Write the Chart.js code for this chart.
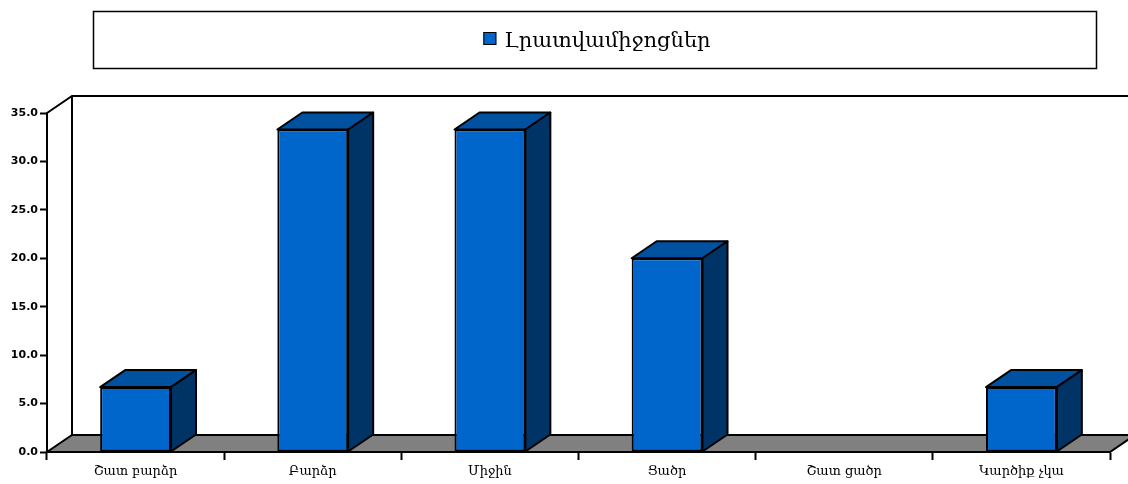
<!DOCTYPE html>
<html lang="hy">
    <head>
        <meta charset="utf-8">
        <title>Լրատվամիջոցներ</title>
        <script src="https://cdn.jsdelivr.net/npm/chart.js@4.4.1/dist/chart.umd.min.js"></script>
        <style>
            html, body { margin: 0; padding: 0; background: #ffffff; }
        </style>
    </head>

    <body>
        <canvas id="myChart" width="1128" height="484"></canvas>

        <script>

            const Categories = ['Շատ բարձր', 'Բարձր', 'Միջին', 'Ցածր', 'Շատ ցածր', 'Կարծիք չկա'];
            const SeriesLabel = 'Լրատվամիջոցներ';
            const SeriesValues = [6.7, 33.3, 33.3, 20.0, 0, 6.7];
            const YTicks = [0, 5, 10, 15, 20, 25, 30, 35];

            // 3d look
            const DX = 25;
            const DY = 17;
            const FRONT = '#0066CC';
            const TOP = '#00519F';
            const SIDE = '#003366';

            const box3d = {
                id: 'box3d',
                beforeDatasetsDraw (chart) {
                    const ctx = chart.ctx;
                    const a = chart.chartArea;
                    ctx.save ();
                    ctx.lineWidth = 2;
                    ctx.strokeStyle = '#000';

                    // back wall
                    ctx.beginPath ();
                    ctx.moveTo (a.left, a.top);
                    ctx.lineTo (a.left + DX, a.top - DY);
                    ctx.lineTo (chart.width + 5, a.top - DY);
                    ctx.moveTo (a.left + DX, a.top - DY);
                    ctx.lineTo (a.left + DX, a.bottom - DY);
                    ctx.stroke ();

                    // floor
                    ctx.beginPath ();
                    ctx.moveTo (a.left, a.bottom);
                    ctx.lineTo (a.right, a.bottom);
                    ctx.lineTo (a.right + DX, a.bottom - DY);
                    ctx.lineTo (a.left + DX, a.bottom - DY);
                    ctx.closePath ();
                    ctx.fillStyle = '#808080';
                    ctx.fill ();
                    ctx.stroke ();
                    ctx.restore ();
                },
                afterDatasetsDraw (chart) {
                    const ctx = chart.ctx;
                    const meta = chart.getDatasetMeta (0);
                    ctx.save ();
                    ctx.lineWidth = 2;
                    ctx.strokeStyle = '#000';
                    ctx.lineJoin = 'round';
                    meta.data.forEach ((bar, i) => {
                        if (!SeriesValues [i]) return;
                        const l = bar.x - bar.width / 2;
                        const r = bar.x + bar.width / 2;
                        const t = bar.y;
                        const b = bar.base;

                        ctx.beginPath ();
                        ctx.moveTo (l, t);
                        ctx.lineTo (r, t);
                        ctx.lineTo (r + DX, t - DY);
                        ctx.lineTo (l + DX, t - DY);
                        ctx.closePath ();
                        ctx.fillStyle = TOP;
                        ctx.fill ();
                        ctx.stroke ();

                        ctx.beginPath ();
                        ctx.moveTo (r, t);
                        ctx.lineTo (r + DX, t - DY);
                        ctx.lineTo (r + DX, b - DY);
                        ctx.lineTo (r, b);
                        ctx.closePath ();
                        ctx.fillStyle = SIDE;
                        ctx.fill ();
                        ctx.stroke ();
                    });
                    ctx.restore ();
                },
                afterDraw (chart) {
                    // legend frame and item
                    const ctx = chart.ctx;
                    ctx.save ();
                    ctx.lineWidth = 1.5;
                    ctx.strokeStyle = '#000';
                    ctx.strokeRect (93.5, 11.5, 1003, 57);

                    ctx.font = '21px "DejaVu Serif"';
                    const label = chart.data.datasets [0].label;
                    const tw = ctx.measureText (label).width;
                    const box = 13;
                    const gap = 8;
                    const x0 = 597 - (box + gap + tw) / 2;
                    ctx.fillStyle = FRONT;
                    ctx.fillRect (x0, 32, box, box);
                    ctx.lineWidth = 1;
                    ctx.strokeRect (x0 + 0.5, 32.5, box - 1, box - 1);
                    ctx.fillStyle = '#000';
                    ctx.textBaseline = 'alphabetic';
                    ctx.fillText (label, x0 + box + gap, 47);
                    ctx.restore ();
                }
            };

            const chartContext = document.getElementById ('myChart').getContext ('2d');
            const myBarChart = new Chart (chartContext, {
                type: 'bar',
                data: {
                    labels: Categories,
                    datasets: [{
                        label: SeriesLabel,
                        data: SeriesValues,
                        backgroundColor: FRONT,
                        borderColor: '#000',
                        borderWidth: ctx => (ctx.raw ? 2 : 0),
                        borderSkipped: false,
                        categoryPercentage: 1,
                        barPercentage: 0.4
                    }]
                },
                options: {
                    responsive: false,
                    animation: false,
                    events: [],
                    layout: {
                        padding: { top: 113, right: 18, left: 0, bottom: 0 }
                    },
                    plugins: {
                        legend: { display: false },
                        tooltip: { enabled: false }
                    },
                    scales: {
                        x: {
                            grid: {
                                offset: true,
                                drawOnChartArea: false,
                                drawTicks: true,
                                tickLength: 8,
                                tickWidth: 2,
                                tickColor: '#000'
                            },
                            border: { display: true, color: '#000', width: 2 },
                            ticks: {
                                color: '#000',
                                font: { family: '"DejaVu Serif"', size: 13 },
                                padding: 4,
                                maxRotation: 0
                            },
                            afterFit: scale => { scale.height = 32; }
                        },
                        y: {
                            min: 0,
                            max: 35,
                            afterBuildTicks: scale => {
                                scale.ticks = YTicks.map (v => ({ value: v }));
                            },
                            grid: {
                                drawOnChartArea: false,
                                drawTicks: true,
                                tickLength: 7,
                                tickWidth: 2,
                                tickColor: '#000'
                            },
                            border: { display: true, color: '#000', width: 2 },
                            ticks: {
                                color: '#000',
                                font: { family: '"DejaVu Sans"', size: 11, weight: 'bold' },
                                padding: 2,
                                callback: v => Number (v).toFixed (1)
                            },
                            afterFit: scale => { scale.width = 47; }
                        }
                    }
                },
                plugins: [box3d]
            });

        </script>
    </body>
</html>
